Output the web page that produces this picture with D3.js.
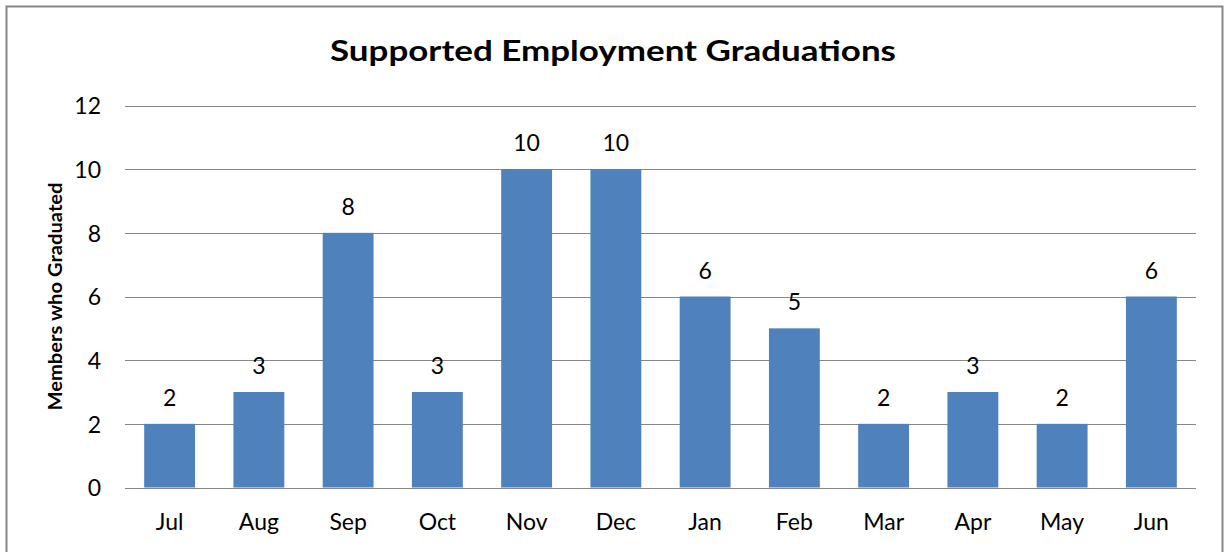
<!DOCTYPE html>
<html>
<head>
<meta charset="utf-8">
<script src="https://cdn.jsdelivr.net/npm/d3@7"></script>
<style>
  html, body { margin: 0; padding: 0; background: #fff; }
  svg { display: block; }
  text { font-family: Lato, "Open Sans", sans-serif; fill: #000; }
</style>
</head>
<body>
<svg id="chart" width="1225" height="552"></svg>
<script>
// Monthly graduations, fiscal year July through June
const months = ["Jul", "Aug", "Sep", "Oct", "Nov", "Dec", "Jan", "Feb", "Mar", "Apr", "May", "Jun"];
const graduations = [2, 3, 8, 3, 10, 10, 6, 5, 2, 3, 2, 6];
const yTicks = [0, 2, 4, 6, 8, 10, 12];
const chartTitle = "Supported Employment Graduations";
const yAxisTitle = "Members who Graduated";

const svg = d3.select("#chart");
const plot = { left: 125, right: 1196, top: 105.5, bottom: 487.5 };
const labelFont = 23;

// outer chart frame
svg.append("rect")
  .attr("x", 6.5).attr("y", 6.5)
  .attr("width", 1216).attr("height", 560)
  .attr("fill", "#fff")
  .attr("stroke", "#868686").attr("stroke-width", 2);

const x = d3.scaleBand()
  .domain(months)
  .range([plot.left, plot.right])
  .paddingInner(0.43)
  .paddingOuter(0.215);

const y = d3.scaleLinear()
  .domain([0, 12])
  .range([plot.bottom, plot.top]);

// horizontal gridlines
svg.append("g")
  .selectAll("line")
  .data(yTicks)
  .join("line")
  .attr("x1", plot.left).attr("x2", plot.right)
  .attr("y1", d => Math.round(y(d)) + 0.5)
  .attr("y2", d => Math.round(y(d)) + 0.5)
  .attr("stroke", "#868686").attr("stroke-width", 1);

// y axis tick labels
const yAxis = d3.axisLeft(y).tickValues(yTicks).tickSize(0).tickPadding(0);
const gy = svg.append("g")
  .attr("transform", `translate(${plot.left - 24},0)`)
  .call(yAxis);
gy.select(".domain").remove();
gy.selectAll("text")
  .attr("font-family", "Lato, 'Open Sans', sans-serif")
  .attr("font-size", labelFont)
  .attr("fill", "#000")
  .attr("dy", "0.36em");

// x axis category labels
const xAxis = d3.axisBottom(x).tickSize(0).tickPadding(0);
const gx = svg.append("g")
  .attr("transform", `translate(0,${plot.bottom})`)
  .call(xAxis);
gx.select(".domain").remove();
gx.selectAll("text")
  .attr("font-family", "Lato, 'Open Sans', sans-serif")
  .attr("font-size", labelFont)
  .attr("fill", "#000")
  .attr("y", 42.5)
  .attr("dy", 0);

const rows = months.map((m, i) => ({ m, v: graduations[i] }));

// bars
svg.append("g")
  .selectAll("rect")
  .data(rows)
  .join("rect")
  .attr("x", d => x(d.m))
  .attr("y", d => y(d.v))
  .attr("width", x.bandwidth())
  .attr("height", d => y(0) - y(d.v))
  .attr("fill", "#4F81BD");

// value labels above bars
svg.append("g")
  .selectAll("text")
  .data(rows)
  .join("text")
  .attr("x", d => x(d.m) + x.bandwidth() / 2)
  .attr("y", d => y(d.v) - 18)
  .attr("text-anchor", "middle")
  .attr("font-size", labelFont)
  .text(d => d.v);

// chart title
svg.append("text")
  .attr("x", 613).attr("y", 61)
  .attr("text-anchor", "middle")
  .attr("font-size", 29)
  .attr("font-weight", "bold")
  .attr("textLength", 566)
  .attr("lengthAdjust", "spacingAndGlyphs")
  .text(chartTitle);

// y axis title
svg.append("text")
  .attr("transform", `translate(62,${(plot.top + plot.bottom) / 2}) rotate(-90)`)
  .attr("text-anchor", "middle")
  .attr("font-size", 18)
  .attr("font-weight", "bold")
  .attr("textLength", 228)
  .attr("lengthAdjust", "spacingAndGlyphs")
  .text(yAxisTitle);
</script>
</body>
</html>
